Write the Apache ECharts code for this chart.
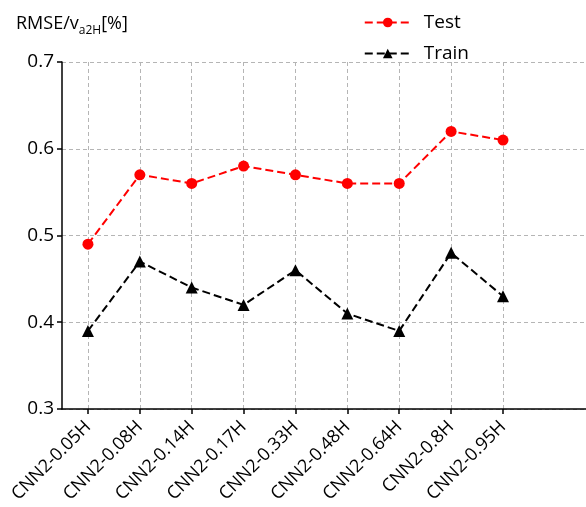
<!DOCTYPE html>
<html>
<head>
<meta charset="utf-8">
<script src="https://cdn.jsdelivr.net/npm/echarts@6/dist/echarts.min.js"></script>
<style>
    html, body { margin: 0; padding: 0; background: #fff; }
    #chart { width: 586px; height: 507px; }
</style>
</head>
<body>
<div id="chart"></div>
<script>
    // 数据
    const categories = ['CNN2-0.05H', 'CNN2-0.08H', 'CNN2-0.14H', 'CNN2-0.17H', 'CNN2-0.33H',
        'CNN2-0.48H', 'CNN2-0.64H', 'CNN2-0.8H', 'CNN2-0.95H']
    const testValues = [0.49, 0.57, 0.56, 0.58, 0.57, 0.56, 0.56, 0.62, 0.61]
    const trainValues = [0.39, 0.47, 0.44, 0.42, 0.46, 0.41, 0.39, 0.48, 0.43]
    const yTicks = [0.3, 0.4, 0.5, 0.6, 0.7]

    const idx = categories.map((c, i) => i)
    const toPairs = vals => vals.map((v, i) => [i, v])

    const chart = echarts.init(document.getElementById('chart'))
    const gridDash = { color: '#b5b5b5', type: [4, 3], width: 1 }
    const font = 'Open Sans, "Noto Sans", sans-serif'

    let option = {
        animation: false,
        backgroundColor: '#fff',
        textStyle: { fontFamily: font },
        grid: { left: 62, right: 0, top: 62, bottom: 98, containLabel: false },
        title: {
            text: '{n|RMSE/v}{sub|a2H}{n|[%]}',
            left: 11, top: 10,
            textStyle: {
                fontSize: 18, fontWeight: 'normal', color: '#000', fontFamily: font,
                rich: {
                    n: { fontSize: 18, color: '#000', fontFamily: font, verticalAlign: 'bottom' },
                    sub: { fontSize: 12, color: '#000', fontFamily: font, verticalAlign: 'bottom', padding: [0, 0, -4, 0] }
                }
            }
        },
        legend: {
            orient: 'vertical',
            right: 112, top: 8,
            itemWidth: 46, itemHeight: 12, itemGap: 12,
            textStyle: { fontSize: 19, color: '#000', fontFamily: font, padding: [0, 0, 0, 8] },
            data: ['Test', 'Train']
        },
        xAxis: {
            type: 'value',
            min: -0.5,
            max: 9.6,
            axisLine: { show: true, onZero: false, lineStyle: { color: '#000', width: 1.5 } },
            axisTick: { show: true, length: 5, customValues: idx, lineStyle: { color: '#000', width: 1.5 } },
            axisLabel: {
                customValues: idx,
                rotate: 45,
                fontSize: 18,
                color: '#000',
                margin: 15,
                formatter: v => categories[Math.round(v)] || ''
            },
            splitLine: { show: true, customValues: idx, lineStyle: gridDash }
        },
        yAxis: {
            type: 'value',
            min: yTicks[0],
            max: yTicks[yTicks.length - 1],
            interval: 0.1,
            axisLine: { show: true, onZero: false, lineStyle: { color: '#000', width: 1.5 } },
            axisTick: { show: true, length: 5, lineStyle: { color: '#000', width: 1.5 } },
            axisLabel: { fontSize: 19, color: '#000', margin: 8, formatter: v => v.toFixed(1) },
            splitLine: { show: true, lineStyle: gridDash }
        },
        series: [
            {
                name: 'Test',
                type: 'line',
                data: toPairs(testValues),
                symbol: 'circle',
                symbolSize: 11,
                itemStyle: { color: '#ff0000' },
                lineStyle: { color: '#ff0000', width: 2, type: [8, 4] }
            },
            {
                name: 'Train',
                type: 'line',
                data: toPairs(trainValues),
                symbol: 'triangle',
                symbolSize: 12,
                itemStyle: { color: '#000' },
                lineStyle: { color: '#000', width: 2, type: [8, 4] }
            }
        ]
    }
    option && chart.setOption(option)
</script>
</body>
</html>
